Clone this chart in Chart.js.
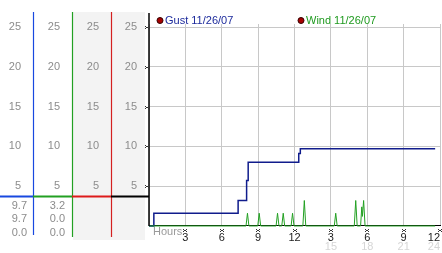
<!DOCTYPE html>
<html>
<head>
<meta charset="utf-8">
<script src="https://cdn.jsdelivr.net/npm/chart.js@4.4.1/dist/chart.umd.min.js"></script>
<style>
  body { margin: 0; background: #fff; }
  canvas { display: block; }
</style>
</head>
<body>
<canvas id="grafico" width="442" height="253"></canvas>
<script>
// dados (horas, valores)
const gustLabel = 'Gust 11/26/07'
const windLabel = 'Wind 11/26/07'

const gustHours  = [0, 0.4, 7.35, 8.05, 8.18, 12.35, 12.48, 23.6]
const gustValues = [0, 1.6, 3.2,  5.7,  8.0,  9.1,   9.7,   9.7]

const windHours  = [0, 8.0, 8.12, 8.24, 8.97, 9.09, 9.21, 10.48, 10.6, 10.72, 10.95, 11.07, 11.19,
                    11.72, 11.84, 11.96, 12.69, 12.81, 12.93, 15.28, 15.4, 15.52,
                    16.93, 17.05, 17.17, 17.45, 17.55, 17.6, 17.7, 17.82, 23.6]
const windValues = [0, 0, 1.6, 0, 0, 1.6, 0, 0, 1.6, 0, 0, 1.6, 0,
                    0, 1.6, 0, 0, 3.2, 0, 0, 1.6, 0,
                    0, 3.2, 0, 0, 2.4, 1.2, 3.2, 0, 0]

// colunas da esquerda: atual / max / min
const gustStats = ['9.7', '9.7', '0.0']
const windStats = ['3.2', '0.0', '0.0']
const levelLine = 3.7   // linha horizontal colorida

const yTicks = [5, 10, 15, 20, 25]
const hourTicks = [3, 6, 9, 12, 15, 18, 21, 24]

const yMin = 0.12
const yMax = 25.38
const fonte = { family: 'Liberation Sans', size: 11 }

function pontos(xs, ys) {
    return xs.map((h, i) => ({ x: h, y: ys[i] }))
}

function eixoY(largura, grade) {
    return {
        type: 'linear', position: 'left', min: yMin, max: yMax,
        grid: { display: grade, color: '#c8c8c8', drawTicks: false },
        border: { display: false },
        ticks: { stepSize: 5, padding: 12, color: '#8c8c8c', font: fonte },
        afterBuildTicks: s => { s.ticks = yTicks.map(v => ({ value: v })) },
        afterFit: s => { s.width = largura }
    }
}

// desenha o quadradinho "x" usado como marca dos ticks
function marca(ctx, x, y) {
    const p = ['1001', '0110', '1001']
    ctx.fillStyle = '#333'
    p.forEach((linha, j) => {
        for (let i = 0; i < 4; i++) if (linha[i] === '1') ctx.fillRect(x + i, y + j, 1, 1)
    })
}

const painel = {
    id: 'painel',
    beforeDraw(chart) {
        const ctx = chart.ctx, s = chart.scales, a = chart.chartArea
        ctx.save()
        ctx.fillStyle = '#f3f3f3'
        ctx.fillRect(s.y2.right + 1, a.top - 12, a.left - 5 - s.y2.right, 228)
        ctx.restore()
    },
    afterDraw(chart) {
        const ctx = chart.ctx, s = chart.scales, a = chart.chartArea
        ctx.save()
        // linhas verticais das colunas
        const cols = [[s.y1.right, '#1848e0', 235], [s.y2.right, '#22a022', 237], [s.y3.right, '#d42020', 237]]
        cols.forEach(([x, cor, fim]) => {
            ctx.strokeStyle = cor; ctx.lineWidth = 1.2
            ctx.beginPath(); ctx.moveTo(x + 0.5, a.top - 12); ctx.lineTo(x + 0.5, fim); ctx.stroke()
        })
        // eixo preto
        ctx.strokeStyle = '#000'; ctx.lineWidth = 1.5
        ctx.beginPath(); ctx.moveTo(a.left, a.top - 11); ctx.lineTo(a.left, a.bottom + 1); ctx.stroke()

        // linha horizontal de nivel
        const yl = s.y4.getPixelForValue(levelLine)
        const segs = [[0, s.y1.right, '#1848e0'], [s.y1.right, s.y2.right, '#22a022'],
                      [s.y2.right, s.y3.right, '#dd1a1a'], [s.y3.right, a.left, '#000']]
        ctx.lineWidth = 2
        segs.forEach(([x0, x1, cor]) => {
            ctx.strokeStyle = cor
            ctx.beginPath(); ctx.moveTo(x0, yl); ctx.lineTo(x1, yl); ctx.stroke()
        })

        // valores das colunas
        ctx.font = '11px "Liberation Sans"'
        ctx.fillStyle = '#8c8c8c'
        ctx.textAlign = 'right'; ctx.textBaseline = 'middle'
        gustStats.forEach((t, i) => ctx.fillText(t, s.y1.right - 6, yl + 9 + i * 13.5))
        windStats.forEach((t, i) => ctx.fillText(t, s.y2.right - 7, yl + 9 + i * 13.5))

        // marcas dos ticks
        yTicks.forEach(v => marca(ctx, a.left - 4, Math.round(s.y4.getPixelForValue(v)) - 1))
        hourTicks.forEach(h => marca(ctx, Math.round(s.x.getPixelForValue(h)) - 2, a.bottom + 4))

        ctx.textAlign = 'left'
        ctx.fillStyle = '#9a9a9a'
        ctx.fillText('Hours', a.left + 4, a.bottom + 7)

        // legenda
        const leg = [[gustLabel, '#1c2a9c', a.left + 11], [windLabel, '#1f9a1f', a.left + 152]]
        leg.forEach(([txt, cor, x]) => {
            ctx.fillStyle = '#a80000'; ctx.strokeStyle = '#300'; ctx.lineWidth = 1
            ctx.beginPath(); ctx.arc(x, a.top - 3.5, 3, 0, Math.PI * 2); ctx.fill(); ctx.stroke()
            ctx.fillStyle = cor
            ctx.fillText(txt, x + 5, a.top - 3.5)
        })
        ctx.restore()
    }
}

const grafico = new Chart(document.getElementById('grafico'), {
    type: 'line',
    data: {
        datasets: [{
            label: windLabel,
            data: pontos(windHours, windValues),
            borderColor: '#22a022', borderWidth: 1,
            pointRadius: 0, tension: 0, clip: 4,
            xAxisID: 'x', yAxisID: 'y4'
        }, {
            label: gustLabel,
            data: pontos(gustHours, gustValues),
            borderColor: '#101c8c', borderWidth: 1.5,
            pointRadius: 0, stepped: 'before', clip: 4,
            xAxisID: 'x', yAxisID: 'y4'
        }]
    },
    options: {
        responsive: false,
        animation: false,
        layout: { padding: { top: 24, right: 2, left: 0, bottom: 0 } },
        plugins: { legend: { display: false }, tooltip: { enabled: false } },
        scales: {
            y1: { ...eixoY(33, false), weight: 4 },
            y2: { ...eixoY(39, false), weight: 3 },
            y3: { ...eixoY(39, false), weight: 2 },
            y4: { ...eixoY(38, true), weight: 1 },
            x: {
                type: 'linear', position: 'bottom', min: 0, max: 24, weight: 1,
                grid: { color: '#c8c8c8', drawTicks: false },
                border: { color: '#000' },
                ticks: {
                    stepSize: 3, align: 'inner', maxRotation: 0, autoSkip: false,
                    padding: 6, color: '#222', font: fonte,
                    callback: v => v === 0 ? '' : (v > 12 ? v - 12 : v)
                },
                afterFit: s => { s.height = 17; s.paddingLeft = 0; s.paddingRight = 0 }
            },
            x2: {
                type: 'linear', position: 'bottom', min: 0, max: 24, weight: 2,
                grid: { display: false, drawTicks: false },
                border: { display: false },
                ticks: {
                    stepSize: 3, align: 'inner', maxRotation: 0, autoSkip: false,
                    padding: -1.6, color: '#d6d6d6', font: fonte,
                    callback: v => v > 12 ? v : ''
                },
                afterFit: s => { s.height = 11; s.paddingLeft = 0; s.paddingRight = 0 }
            }
        }
    },
    plugins: [painel]
})
</script>
</body>
</html>
